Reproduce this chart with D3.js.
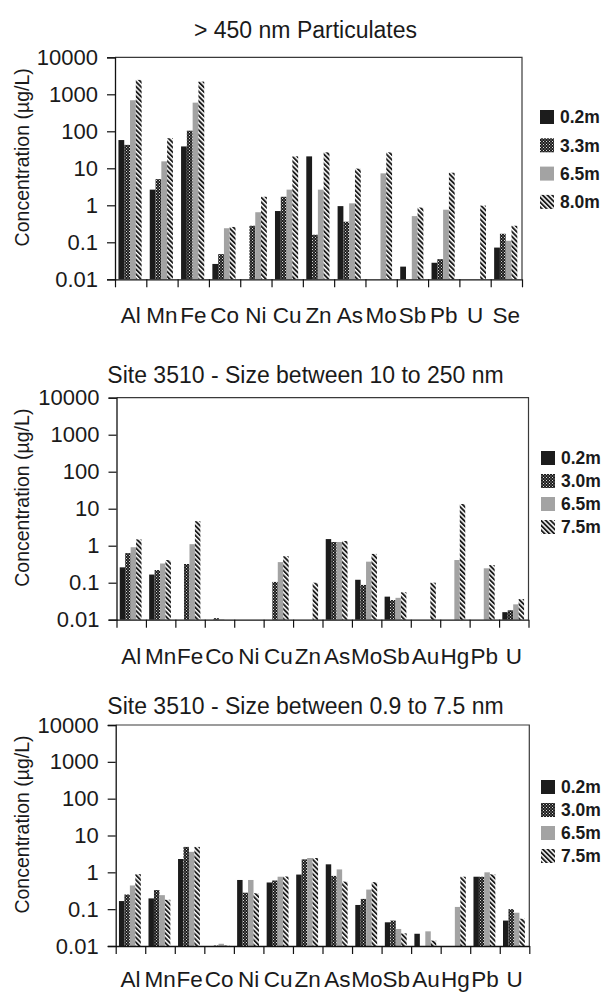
<!DOCTYPE html>
<html>
<head>
<meta charset="utf-8">
<script src="https://cdn.jsdelivr.net/npm/d3@7"></script>
<style>
  html, body { margin: 0; padding: 0; background: #fff; }
  svg { display: block; font-family: "Liberation Sans", Arial, sans-serif; }
</style>
</head>
<body>
<svg id="chart" width="611" height="992"></svg>
<script>
// ---- Panel 1: > 450 nm particulates ----
const title1 = "> 450 nm Particulates";
const categories1 = ["Al","Mn","Fe","Co","Ni","Cu","Zn","As","Mo","Sb","Pb","U","Se"];
const series1 = ["0.2m","3.3m","6.5m","8.0m"];
const p1_d02 = [58, 2.65, 39, 0.026, null, 0.7, 21, 0.95, null, 0.022, 0.028, null, 0.072];
const p1_d33 = [43, 5.1, 104, 0.048, 0.28, 1.7, 0.16, 0.36, null, null, 0.035, null, 0.17];
const p1_d65 = [690, 15.4, 595, 0.24, 0.65, 2.65, 2.65, 1.13, 7.3, 0.51, 0.76, null, 0.11];
const p1_d80 = [2450, 65, 2200, 0.26, 1.7, 21, 27, 9.8, 27, 0.87, 7.6, 0.98, 0.28];

// ---- Panel 2: 10 to 250 nm ----
const title2 = "Site 3510 - Size between 10 to 250 nm";
const categories2 = ["Al","Mn","Fe","Co","Ni","Cu","Zn","As","Mo","Sb","Au","Hg","Pb","U"];
const series2 = ["0.2m","3.0m","6.5m","7.5m"];
const p2_d02 = [0.26, 0.166, null, null, null, null, null, 1.51, 0.12, 0.042, null, null, null, 0.016];
const p2_d30 = [0.63, 0.22, 0.32, 0.011, null, 0.105, null, 1.26, 0.087, 0.034, null, null, null, 0.018];
const p2_d65 = [0.91, 0.33, 1.1, 0.0103, null, 0.36, null, 1.26, 0.37, 0.039, null, 0.41, 0.245, 0.026];
const p2_d75 = [1.48, 0.41, 4.6, null, null, 0.52, 0.1, 1.34, 0.6, 0.055, 0.1, 13.4, 0.30, 0.036];

// ---- Panel 3: 0.9 to 7.5 nm ----
const title3 = "Site 3510 - Size between 0.9 to 7.5 nm";
const categories3 = ["Al","Mn","Fe","Co","Ni","Cu","Zn","As","Mo","Sb","Au","Hg","Pb","U"];
const series3 = ["0.2m","3.0m","6.5m","7.5m"];
const p3_d02 = [0.166, 0.196, 2.3, null, 0.62, 0.53, 0.87, 1.65, 0.13, 0.044, 0.0215, null, 0.76, 0.049];
const p3_d30 = [0.25, 0.33, 4.9, 0.0103, 0.28, 0.6, 2.25, 0.8, 0.19, 0.049, null, null, 0.76, 0.1];
const p3_d65 = [0.44, 0.24, 3.6, 0.0115, 0.62, 0.76, 2.45, 1.2, 0.34, 0.029, 0.025, 0.115, 1.0, 0.08];
const p3_d75 = [0.89, 0.18, 4.9, 0.0103, 0.27, 0.77, 2.45, 0.56, 0.54, 0.022, 0.014, 0.76, 0.88, 0.055];

const yTicks = [0.01, 0.1, 1, 10, 100, 1000, 10000];
const yTickLabels = ["0.01", "0.1", "1", "10", "100", "1000", "10000"];
const yTitle = "Concentration (\u00b5g/L)";

const svg = d3.select("#chart");
const defs = svg.append("defs");

// fill styles for the four depths: solid dark, dotted, grey, diagonal hatch
const dots = defs.append("pattern").attr("id", "dots")
  .attr("patternUnits", "userSpaceOnUse").attr("width", 3).attr("height", 3);
dots.append("rect").attr("width", 3).attr("height", 3).attr("fill", "#1c1c1c");
dots.append("rect").attr("x", 0).attr("y", 0).attr("width", 1).attr("height", 1).attr("fill", "#d8d8d8");
dots.append("rect").attr("x", 1.5).attr("y", 1.5).attr("width", 1).attr("height", 1).attr("fill", "#bdbdbd");

const hatch = defs.append("pattern").attr("id", "hatch")
  .attr("patternUnits", "userSpaceOnUse").attr("width", 3.4).attr("height", 3.4)
  .attr("patternTransform", "rotate(-45)");
hatch.append("rect").attr("width", 3.4).attr("height", 3.4).attr("fill", "#ffffff");
hatch.append("rect").attr("width", 1.9).attr("height", 3.4).attr("fill", "#1c1c1c");

const fills = ["#1c1c1c", "url(#dots)", "#a3a3a3", "url(#hatch)"];

const panels = [
  { title: title1, cats: categories1, series: series1, values: [p1_d02, p1_d33, p1_d65, p1_d80],
    left: 115, right: 522, top: 57.3, bottom: 279.3, titleY: 38, labelPad: 28,
    legendX: 540, legendY: 117, legendStep: 28.3 },
  { title: title2, cats: categories2, series: series2, values: [p2_d02, p2_d30, p2_d65, p2_d75],
    left: 116.5, right: 528.5, top: 397.7, bottom: 619.7, titleY: 383, labelPad: 28,
    legendX: 541, legendY: 458, legendStep: 23 },
  { title: title3, cats: categories3, series: series3, values: [p3_d02, p3_d30, p3_d65, p3_d75],
    left: 115.7, right: 529.3, top: 725, bottom: 946, titleY: 714, labelPad: 25,
    legendX: 541, legendY: 787, legendStep: 23 }
];

panels.forEach(p => {
  const g = svg.append("g");
  const x = d3.scaleBand().domain(p.cats).range([p.left, p.right]).padding(0);
  const inner = d3.scaleBand().domain(p.series)
    .range([x.bandwidth() * 0.11, x.bandwidth() * 0.85]).padding(0);
  const y = d3.scaleLog().domain([0.01, 10000]).range([p.bottom, p.top]);
  const edge = d3.scaleLinear().domain([0, p.cats.length]).range([p.left, p.right]);

  // title
  g.append("text").attr("x", 305.5).attr("y", p.titleY)
    .attr("text-anchor", "middle").attr("font-size", 23).attr("fill", "#1a1a1a")
    .text(p.title);

  // frame (top and right)
  g.append("path")
    .attr("d", `M${p.left},${p.top}H${p.right}V${p.bottom}`)
    .attr("fill", "none").attr("stroke", "#3a3a3a").attr("stroke-width", 1.2);

  // bars
  p.series.forEach((s, si) => {
    g.append("g").selectAll("rect")
      .data(p.cats.map((c, ci) => ({ c, v: p.values[si][ci] })).filter(d => d.v != null))
      .join("rect")
      .attr("x", d => x(d.c) + inner(s))
      .attr("width", inner.bandwidth())
      .attr("y", d => y(d.v))
      .attr("height", d => y(0.01) - y(d.v))
      .attr("fill", fills[si]);
  });

  // y axis
  const ya = g.append("g").attr("transform", `translate(${p.left},0)`)
    .call(d3.axisLeft(y).tickValues(yTicks)
      .tickFormat((d, i) => yTickLabels[i]).tickSize(8).tickPadding(9));
  ya.select(".domain").attr("stroke", "#111").attr("stroke-width", 1.3);
  ya.selectAll(".tick line").attr("stroke", "#111").attr("stroke-width", 1.2);
  ya.selectAll(".tick text").attr("font-size", 22).attr("fill", "#1a1a1a")
    .attr("font-family", "Liberation Sans, Arial, sans-serif");

  // x axis: tick marks at category edges
  const xa = g.append("g").attr("transform", `translate(0,${p.bottom})`)
    .call(d3.axisBottom(edge).tickValues(d3.range(p.cats.length + 1))
      .tickFormat("").tickSize(8).tickSizeOuter(0));
  xa.select(".domain").attr("stroke", "#111").attr("stroke-width", 1.3);
  xa.selectAll(".tick line").attr("stroke", "#111").attr("stroke-width", 1.2);

  // category labels
  const xl = g.append("g").attr("transform", `translate(0,${p.bottom})`)
    .call(d3.axisBottom(x).tickSize(0).tickPadding(p.labelPad));
  xl.select(".domain").remove();
  xl.selectAll(".tick text").attr("font-size", 22.5).attr("fill", "#1a1a1a")
    .attr("font-family", "Liberation Sans, Arial, sans-serif");

  // y title
  g.append("text")
    .attr("transform", `translate(29,${(p.top + p.bottom) / 2 - 11}) rotate(-90)`)
    .attr("text-anchor", "middle").attr("font-size", 19.5).attr("fill", "#1a1a1a")
    .text(yTitle);

  // legend
  const lg = g.append("g");
  p.series.forEach((s, si) => {
    const cy = p.legendY + si * p.legendStep;
    lg.append("rect").attr("x", p.legendX).attr("y", cy - 7).attr("width", 14).attr("height", 14)
      .attr("fill", fills[si]);
    lg.append("text").attr("x", p.legendX + 20).attr("y", cy).attr("dy", "0.36em")
      .attr("font-size", 17.5).attr("font-weight", "bold").attr("fill", "#1a1a1a")
      .text(s);
  });
});
</script>
</body>
</html>
